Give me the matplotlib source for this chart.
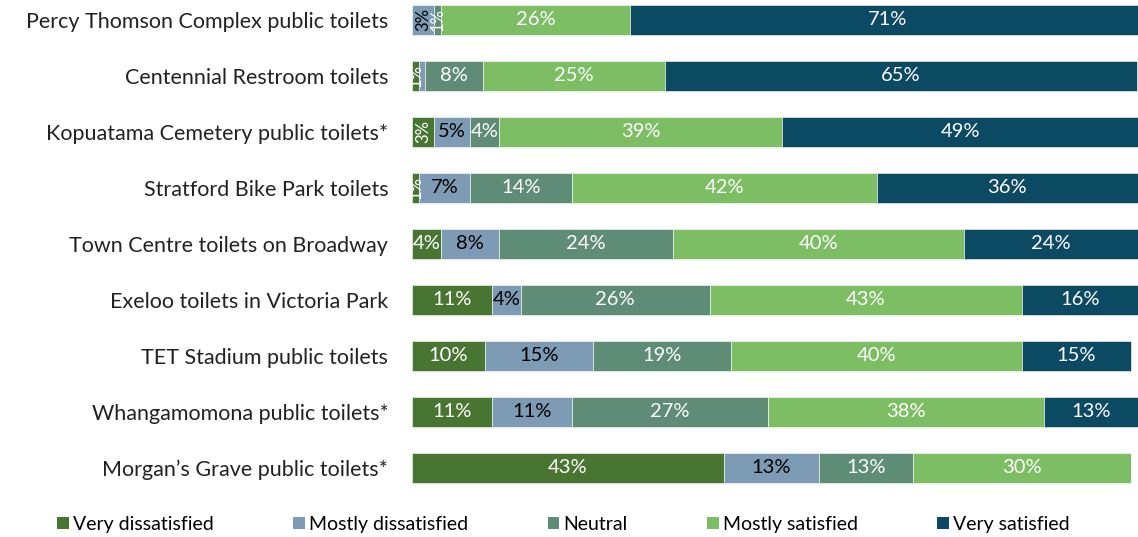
import numpy as np
import matplotlib.pyplot as plt
from matplotlib.patches import Patch

plt.rcParams['font.family'] = ['Lato', 'DejaVu Sans']

sites = [
    "Percy Thomson Complex public toilets",
    "Centennial Restroom toilets",
    "Kopuatama Cemetery public toilets*",
    "Stratford Bike Park toilets",
    "Town Centre toilets on Broadway",
    "Exeloo toilets in Victoria Park",
    "TET Stadium public toilets",
    "Whangamomona public toilets*",
    "Morgan\u2019s Grave public toilets*",
]

very_dissatisfied = [0, 1, 3, 1, 4, 11, 10, 11, 43]
mostly_dissatisfied = [3, 0.8, 5, 7, 8, 4, 15, 11, 13]
neutral = [1, 8, 4, 14, 24, 26, 19, 27, 13]
mostly_satisfied = [26, 25, 39, 42, 40, 43, 40, 38, 30]
very_satisfied = [71, 65, 49, 36, 24, 16, 15, 13, 0]

levels = ["Very dissatisfied", "Mostly dissatisfied", "Neutral",
          "Mostly satisfied", "Very satisfied"]
colors = ["#487632", "#7D9BB4", "#5F8C76", "#7DBE64", "#0C4A64"]
text_colors = ["white", "black", "white", "white", "white"]

series = [very_dissatisfied, mostly_dissatisfied, neutral,
          mostly_satisfied, very_satisfied]

fig = plt.figure(figsize=(11.38, 5.37), dpi=100)
ax = fig.add_axes([0.362, 0.0764, 0.638, 0.9385])

y = np.arange(len(sites))
left = np.zeros(len(sites))
for vals, col, tcol in zip(series, colors, text_colors):
    vals = np.array(vals, dtype=float)
    ax.barh(y, vals, left=left, height=0.52, color=col,
            edgecolor="white", linewidth=0.4)
    for yi, (l, v) in enumerate(zip(left, vals)):
        if v < 1:
            continue
        label = f"{v:.0f}%"
        if v <= 3:
            # thin segments get a sideways label
            ax.text(l + v / 2, yi, label, rotation=90, ha="center",
                    va="center", color=tcol, fontsize=12)
        else:
            ax.text(l + v / 2, yi, label, ha="center", va="center",
                    color=tcol, fontsize=14.5)
    left += vals

ax.set_xlim(0, 100)
ax.set_ylim(len(sites) - 0.5, -0.5)
ax.set_yticks(y)
ax.set_yticklabels(sites, fontsize=15.5, color="#222222")
ax.tick_params(axis="y", length=0, pad=17)
ax.set_xticks([])
for s in ax.spines.values():
    s.set_visible(False)

handles = [Patch(facecolor=c, edgecolor="none") for c in colors]
fig.legend(handles, levels, loc="center", bbox_to_anchor=(0.495, 0.024),
           ncol=5, frameon=False, fontsize=14, handlelength=0.6,
           handleheight=0.6, handletextpad=0.2, columnspacing=4.1)

fig.savefig("out.png", dpi=100)
